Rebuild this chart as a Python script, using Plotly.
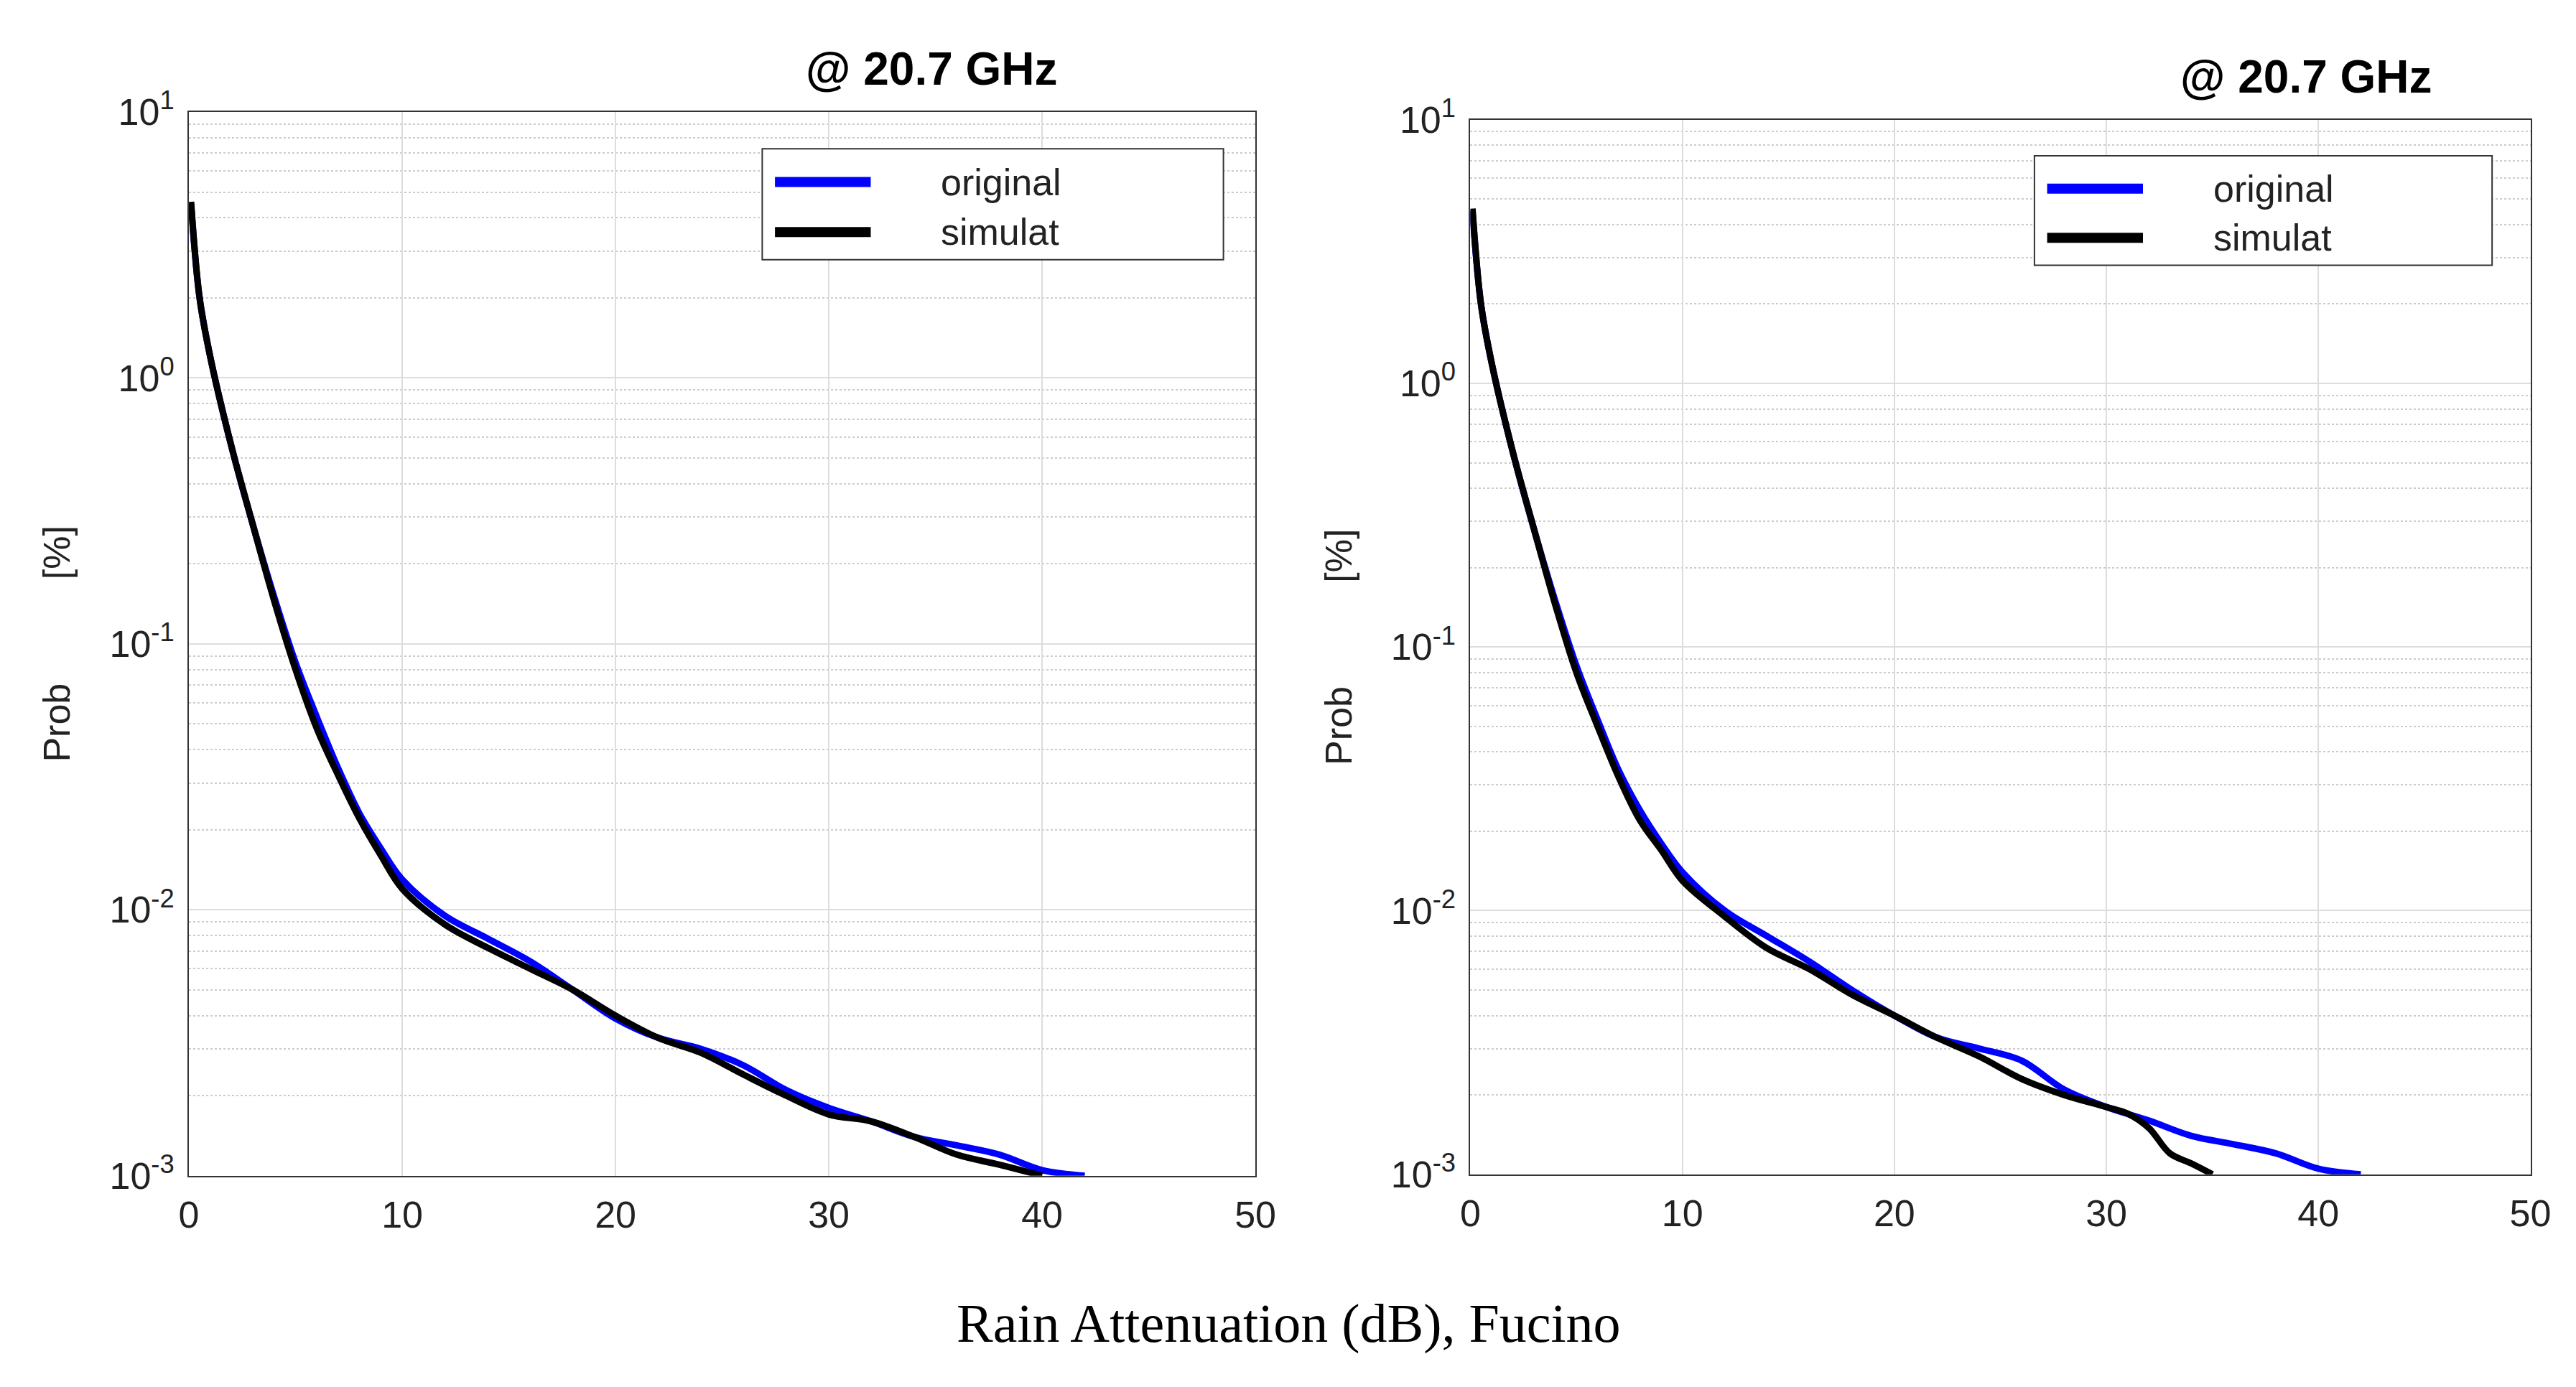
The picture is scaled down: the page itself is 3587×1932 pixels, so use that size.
import plotly.graph_objects as go

x_orig = [0.1,0.5,1,2,3,4,5,6,7,8,9,10,12,14,16,18,20,22,24,26,28,30,32,34,36,38,40,42]
y_orig_l = [4.5,2.0,1.2,0.55,0.28,0.15,0.085,0.053,0.034,0.023,0.017,0.013,0.0095,0.0078,0.0064,0.005,0.0039,0.0033,0.003,0.0026,0.0021,0.0018,0.0016,0.0014,0.0013,0.0012,0.00105,0.001]
x_sim_l = [0.1,0.5,1,2,3,4,5,6,7,8,9,10,12,14,16,18,20,22,24,26,28,30,32,34,36,38,40]
y_sim_l = [4.6,2.0,1.2,0.55,0.28,0.145,0.08,0.048,0.032,0.022,0.016,0.012,0.0088,0.0072,0.006,0.005,0.004,0.0033,0.0029,0.0024,0.002,0.0017,0.0016,0.0014,0.0012,0.0011,0.001]
y_orig_r = [4.5,2.0,1.2,0.55,0.28,0.15,0.085,0.053,0.034,0.024,0.018,0.014,0.01,0.008,0.0064,0.005,0.004,0.0033,0.003,0.0027,0.0021,0.0018,0.0016,0.0014,0.0013,0.0012,0.00105,0.001]
x_sim_r = [0.1,0.5,1,2,3,4,5,6,7,8,9,10,12,14,16,18,20,22,24,26,28,30,31,32,33,34,35]
y_sim_r = [4.6,2.0,1.2,0.55,0.28,0.145,0.08,0.05,0.032,0.022,0.017,0.013,0.0095,0.0072,0.006,0.0048,0.004,0.0033,0.0028,0.0023,0.002,0.0018,0.0017,0.0015,0.0012,0.0011,0.001]
title = "@ 20.7 GHz"
xticks = [0,10,20,30,40,50]
yticks = [0.001,0.01,0.1,1,10]
ytext = ["10<sup>-3</sup>","10<sup>-2</sup>","10<sup>-1</sup>","10<sup>0</sup>","10<sup>1</sup>"]

fig = go.Figure()
W, H = 3587, 1932
doms = [(244/W, 1747/W, 1-1649/H, 1-115/H), (2050/W, 3544/W, 1-1647/H, 1-126/H)]
title_x = [1291/W, 3408/W]
data = [(x_orig, y_orig_l, x_sim_l, y_sim_l), (x_orig, y_orig_r, x_sim_r, y_sim_r)]
font = dict(size=52, family="Liberation Sans", color="#222")
for i, (d, (xo, yo, xs, ys)) in enumerate(zip(doms, data)):
    n = "" if i == 0 else "2"
    fig.add_trace(go.Scatter(x=xo, y=yo, name="original", mode="lines", line=dict(color="#0000ff", width=9, shape="spline"), xaxis="x"+n, yaxis="y"+n, showlegend=False))
    fig.add_trace(go.Scatter(x=xs, y=ys, name="simulat", mode="lines", line=dict(color="black", width=9, shape="spline"), xaxis="x"+n, yaxis="y"+n, showlegend=False))
    fig.layout["xaxis"+n] = dict(domain=[d[0], d[1]], range=[0,50], tickvals=xticks, anchor="y"+n,
        showgrid=True, gridcolor="#dddddd", gridwidth=2, showline=True, linecolor="#333", linewidth=2, mirror=True,
        ticks="outside", ticklen=8, tickcolor="white", tickfont=font, zeroline=False)
    fig.layout["yaxis"+n] = dict(domain=[d[2], d[3]], type="log", range=[-3,1], tickvals=yticks, ticktext=ytext, anchor="x"+n,
        showgrid=True, gridcolor="#dddddd", gridwidth=2, showline=True, linecolor="#333", linewidth=2, mirror=True,
        minor=dict(showgrid=True, gridcolor="#cccccc", griddash="dot", gridwidth=2, dtick="D1"),
        ticks="outside", ticklen=8, tickcolor="white", tickfont=font, zeroline=False,
        title=dict(text="Prob          [%]", font=font, standoff=38))
    fig.add_annotation(text="<b>"+title+"</b>", x=title_x[i], y=d[3], xref="paper", yref="paper",
        yanchor="bottom", yshift=22, showarrow=False, font=dict(size=64, family="Liberation Sans", color="black"))
    if i == 0:
        lx0, lx1, ly0, ly1 = 1052/W, 1702/W, 1-365/H, 1-205/H
    else:
        lx0, lx1, ly0, ly1 = 2845/W, 3490/W, 1-373/H, 1-215/H
    ly0 += 37/H; ly1 += 37/H
    fig.add_shape(type="rect", xref="paper", yref="paper", x0=lx0, x1=lx1, y0=ly0, y1=ly1,
        line=dict(color="#333", width=2), fillcolor="white")
    for k, (lab, col) in enumerate([("original", "#0000ff"), ("simulat", "black")]):
        yy = ly1 - (ly1-ly0)*(0.3 + 0.45*k)
        fig.add_shape(type="line", xref="paper", yref="paper", x0=lx0+0.005, x1=lx0+0.005+135/W, y0=yy, y1=yy,
            line=dict(color=col, width=14))
        fig.add_annotation(text=lab, x=lx0+250/W, y=yy, xref="paper", yref="paper", xanchor="left", yanchor="middle",
            showarrow=False, font=font)

fig.add_annotation(text="Rain Attenuation (dB), Fucino", x=0.5, y=1-1862/H, xref="paper", yref="paper",
    yanchor="middle", showarrow=False, font=dict(size=76, family="Liberation Serif", color="black"))
fig.update_layout(width=W, height=H, margin=dict(l=0, r=0, t=0, b=0), plot_bgcolor="white", paper_bgcolor="white")
fig.write_html("out.html")
